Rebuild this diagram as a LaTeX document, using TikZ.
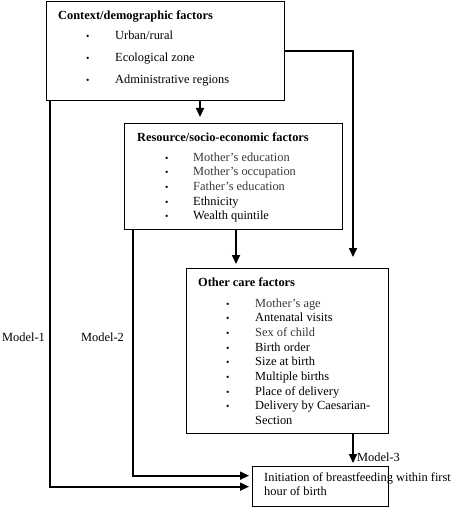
\documentclass[tikz,border=0pt]{standalone}
\usepackage{fontspec}
\setmainfont{Liberation Serif}
\usetikzlibrary{arrows.meta, positioning}
\definecolor{softtext}{RGB}{55,55,55}
\tikzset{
  box/.style   = {draw, line width=1.3pt, anchor=north west, inner sep=0pt},
  head/.style  = {anchor=base west, inner sep=0pt, font=\fontsize{12.4}{14}\selectfont\bfseries},
  item/.style  = {anchor=base west, inner sep=0pt, font=\fontsize{12.4}{14}\selectfont},
  dot/.style   = {anchor=base west, inner sep=0pt, font=\fontsize{9.5}{10}\selectfont},
  arrow/.style = {-{Triangle[length=9pt,width=8pt]}, line width=1.7pt},
}

\begin{document}
\begin{tikzpicture}[x=1pt, y=-1pt]
  \useasboundingbox (0,0) rectangle (473,508);
  % boxes
  \node[box, minimum width=238pt, minimum height=99pt]  (ctx)  at (46,1)    {};
  \node[box, minimum width=218pt, minimum height=106pt] (res)  at (124,123) {};
  \node[box, minimum width=202pt, minimum height=165pt] (oth)  at (186,268) {};
  \node[box, minimum width=136pt, minimum height=40pt]  (init) at (252,466) {};

  % context / demographic
  \node[head] (ctxhead) at (58,20) {Context/demographic factors};
  \node[dot] at (86,40) {\textbullet};  \node[item] (urb) at (115,40) {Urban/rural};
  \node[dot] at (86,62) {\textbullet};  \node[item] (eco) at (115,62) {Ecological zone};
  \node[dot] at (86,84) {\textbullet};  \node[item] (adm) at (115,84) {Administrative regions};

  % resource / socio-economic
  \node[head] (reshead) at (137,141) {Resource/socio-economic factors};
  \foreach \y/\t/\c in {161/Mother’s education/softtext, 175.7/Mother’s occupation/softtext,
                        190.4/Father’s education/softtext, 205.1/Ethnicity/black,
                        219.8/Wealth quintile/black} {
    \node[dot] at (165,\y) {\textbullet};
    \node[item, text=\c] at (193,\y) {\t};
  }

  % other care
  \node[head] (othhead) at (198,286) {Other care factors};
  \foreach \y/\t/\c in {307/Mother’s age/softtext, 321.7/Antenatal visits/black,
                        336.3/Sex of child/softtext, 351/Birth order/black,
                        365.6/Size at birth/black, 380.3/Multiple births/black,
                        395/Place of delivery/black, 409.6/Delivery by Caesarian-/black} {
    \node[dot] at (226,\y) {\textbullet};
    \node[item, text=\c] at (255,\y) {\t};
  }
  \node[item] (sect) at (255,424.2) {Section};

  % outcome
  \node[item, align=left, anchor=north west, font=\fontsize{12.4}{14}\selectfont]
    (inittxt) at (264,473) {Initiation of breastfeeding within first\\hour of birth};

  % connectors
  \coordinate (xa) at (200,0);
  \coordinate (xb) at (236,0);
  \coordinate (xc) at (353,0);
  \coordinate (xm1) at (50,0);
  \coordinate (xm2) at (133,0);
  \coordinate (m2end) at ([yshift=11pt]init.west);
  \draw[arrow, shorten >=6pt] (ctx.south -| xa) -- (res.north -| xa);
  \draw[arrow, shorten >=4pt] (res.south -| xb) -- (oth.north -| xb);
  \draw[arrow, shorten >=11pt] (ctx.east) -| (oth.north -| xc);
  \draw[arrow, shorten >=3pt] (oth.south -| xc) -- (init.north -| xc);
  \draw[arrow, shorten >=3pt] (ctx.south -| xm1) |- (init.west);
  \draw[arrow, shorten >=3pt] (res.south -| xm2) |- (m2end);

  % model labels
  \node[item] (mod1) at (2,341) {Model-1};
  \node[item] (mod2) at (81,341) {Model-2};
  \node[item] (mod3) at (357,461) {Model-3};
\end{tikzpicture}
\end{document}
